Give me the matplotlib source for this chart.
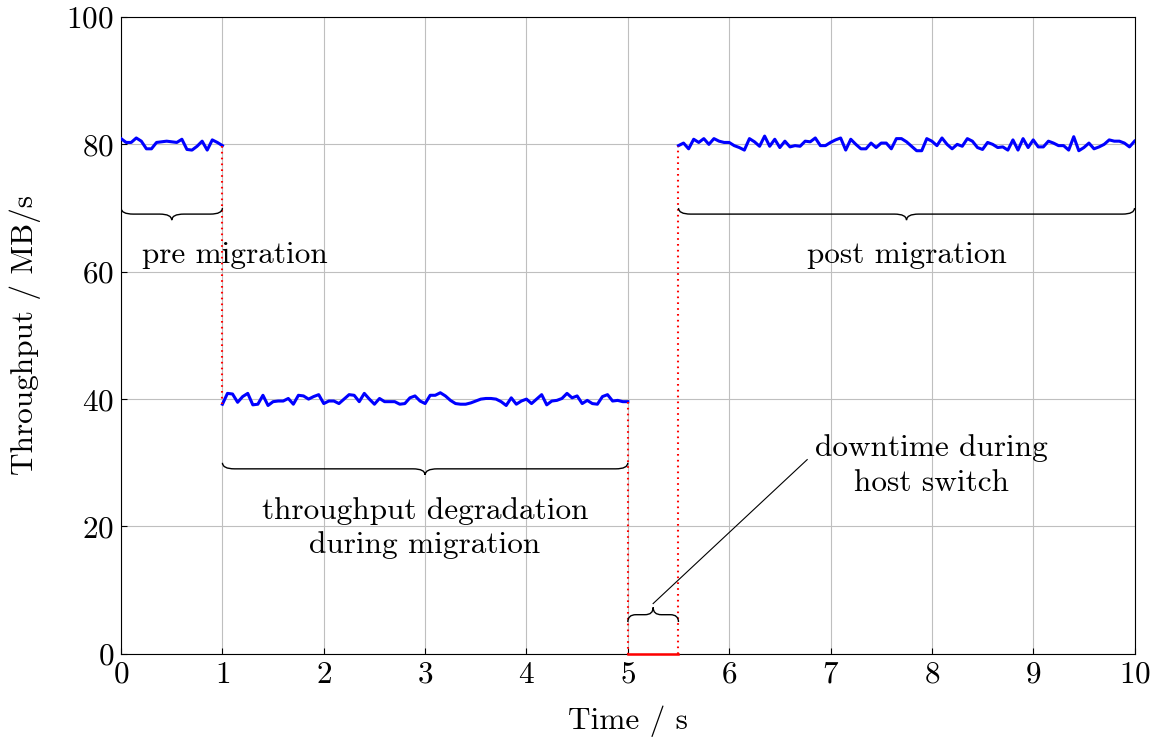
import numpy as np
import matplotlib.pyplot as plt
from matplotlib.path import Path
from matplotlib.patches import PathPatch

plt.rcParams['font.family'] = 'serif'
plt.rcParams['font.serif'] = ['cmr10']
plt.rcParams['mathtext.fontset'] = 'cm'
plt.rcParams['axes.formatter.use_mathtext'] = True

# throughput samples (MB/s), 0.05 s apart
pre_vals = [80.9, 80.3, 80.3, 81.0, 80.5, 79.3, 79.3, 80.3, 80.4, 80.5,
            80.4, 80.3, 80.8, 79.2, 79.1, 79.7, 80.5, 79.1, 80.7, 80.3,
            79.8]
during_vals = [39.2, 40.9, 40.8, 39.5, 40.4, 40.9, 39.1, 39.2, 40.6, 39.0,
               39.6, 39.7, 39.7, 40.1, 39.2, 40.6, 40.5, 40.0, 40.4, 40.7,
               39.3, 39.7, 39.7, 39.3, 40.0, 40.7, 40.6, 39.6, 40.9, 40.0,
               39.2, 40.1, 39.6, 39.6, 39.6, 39.2, 39.3, 40.2, 40.5, 39.7,
               39.3, 40.6, 40.6, 41.0, 40.5, 39.8, 39.3, 39.2, 39.2, 39.4,
               39.7, 40.0, 40.1, 40.1, 40.0, 39.6, 39.0, 40.2, 39.2, 39.7,
               40.0, 39.3, 40.0, 40.7, 39.1, 39.7, 39.8, 40.1, 40.9, 40.2,
               40.5, 39.3, 39.8, 39.3, 39.2, 40.4, 40.7, 39.7, 39.8, 39.6,
               39.6]
post_vals = [79.8, 80.2, 79.3, 80.8, 80.3, 80.9, 80.0, 80.9, 80.5, 80.3,
             80.3, 79.8, 79.5, 79.1, 80.9, 80.4, 79.7, 81.3, 79.7, 80.8,
             79.5, 80.5, 79.6, 79.8, 79.7, 80.5, 80.4, 81.0, 79.8, 79.8,
             80.3, 80.7, 81.0, 79.1, 80.8, 80.0, 79.3, 79.3, 80.2, 79.5,
             80.2, 80.2, 79.3, 80.9, 80.9, 80.4,
             79.7, 79.0, 79.0, 80.9, 80.5, 79.8, 81.0, 80.0, 79.3, 80.0,
             79.7, 80.9, 80.5, 79.5, 79.2, 80.3, 80.0, 79.5, 79.6, 79.1,
             80.7, 79.1, 80.9, 79.5, 80.7, 79.6, 79.6, 80.5, 80.2, 79.8,
             79.8, 79.1, 81.2, 79.0, 79.5, 80.2, 79.3, 79.6, 80.0, 80.7,
             80.5, 80.5, 80.2, 79.6, 80.5]

t_pre = np.linspace(0, 1, len(pre_vals))
t_during = np.linspace(1, 5, len(during_vals))
t_post = np.linspace(5.5, 10, len(post_vals))


def brace(ax, x0, x1, y, amp, q):
    xm = (x0 + x1) / 2
    h = y - amp / 2
    verts = [(x0, y), (x0, h), (x0 + q, h), (xm - q, h), (xm, h), (xm, y - amp),
             (xm, h), (xm + q, h), (x1 - q, h), (x1, h), (x1, y)]
    codes = [Path.MOVETO, Path.CURVE3, Path.CURVE3, Path.LINETO, Path.CURVE3,
             Path.CURVE3, Path.CURVE3, Path.CURVE3, Path.LINETO, Path.CURVE3,
             Path.CURVE3]
    ax.add_patch(PathPatch(Path(verts, codes), fc='none', ec='black', lw=1.0, zorder=4))


fig = plt.figure(figsize=(11.53, 7.38), dpi=100)
ax = fig.add_axes([0.105, 0.114, 0.879, 0.863])

ax.plot(t_pre, pre_vals, color='blue', lw=2.2, zorder=3)
ax.plot(t_during, during_vals, color='blue', lw=2.2, zorder=3)
ax.plot(t_post, post_vals, color='blue', lw=2.2, zorder=3)

red_dot = dict(color='red', lw=1.5, ls=(0, (0.8, 2.0)), zorder=3)
ax.plot([1, 1], [pre_vals[-1], during_vals[0]], **red_dot)
ax.plot([5, 5], [during_vals[-1], 0], **red_dot)
ax.plot([5.5, 5.5], [0, post_vals[0]], **red_dot)
ax.plot([5, 5.5], [0, 0], color='red', lw=1.8, zorder=5, clip_on=False)

brace(ax, 0, 1, 70, 1.9, 0.12)
brace(ax, 5.5, 10, 70, 1.9, 0.12)
brace(ax, 1, 5, 30, 1.9, 0.12)
brace(ax, 5, 5.5, 5, -2.3, 0.08)

ax.plot([5.25, 6.77], [7.9, 30.5], color='black', lw=0.8, zorder=4)

fs = 22.5
ax.text(1.12, 62.7, 'pre migration', ha='center', va='center', fontsize=fs)
ax.text(7.75, 62.7, 'post migration', ha='center', va='center', fontsize=fs)
ax.text(3.0, 19.8, 'throughput degradation\nduring migration', ha='center',
        va='center', fontsize=fs, linespacing=1.28)
ax.text(8.0, 29.6, 'downtime during\nhost switch', ha='center', va='center',
        fontsize=fs, linespacing=1.3)

ax.set_xlim(0, 10)
ax.set_ylim(0, 100)
ax.set_xticks(range(0, 11))
ax.set_yticks(range(0, 101, 20))
ax.grid(True, color='#bfbfbf', lw=0.8)
ax.set_axisbelow(True)
ax.tick_params(direction='in', length=4, labelsize=fs, pad=5)
ax.set_xlabel('Time / s', fontsize=fs, labelpad=12)
ax.set_ylabel('Throughput / MB/s', fontsize=fs, labelpad=18)

fig.savefig('out.png', dpi=100)
